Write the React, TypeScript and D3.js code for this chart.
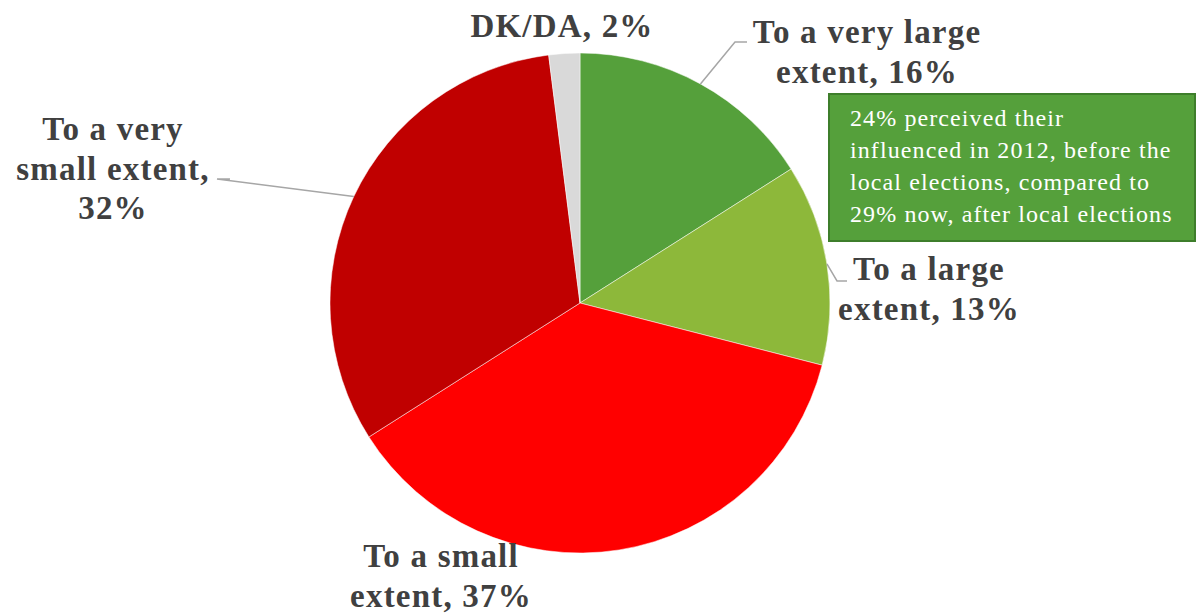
import React from "react";
import * as d3 from "d3";

const categories = ["To a very large extent", "To a large extent", "To a small extent", "To a very small extent", "DK/DA"];
const values = [16, 13, 37, 32, 2];
const colors = ["#55A03B", "#8DB83A", "#FF0000", "#C00000", "#D9D9D9"];
const labelLines = [
  ["To a very large", "extent, 16%"],
  ["To a large", "extent, 13%"],
  ["To a small", "extent, 37%"],
  ["To a very", "small extent,", "32%"],
  ["DK/DA, 2%"],
];
const noteLines = [
  "24% perceived their",
  "influenced in 2012, before the",
  "local elections, compared to",
  "29% now, after local elections",
];

const W = 1201, H = 616;
const cx = 580, cy = 303, R = 250;
// label anchors (center x, first baseline y)
const labelPos: [number, number][] = [[867, 43], [929, 280], [441, 567], [113, 140], [562, 37]];
// leader lines (label end points)
const leaders: ([number, number][] | null)[] = [
  [[747, 42], [735, 42]],
  [[847, 281], [837, 281]],
  null,
  [[230, 179], [217, 179]],
  null,
];

export default function App() {
  const pie = d3.pie<number>().sort(null).value((d) => d);
  const arcs = pie(values);
  const arc = d3.arc<d3.PieArcDatum<number>>().innerRadius(0).outerRadius(R);
  const font = "Liberation Serif, DejaVu Serif, serif";
  return (
    <svg width={W} height={H} style={{ position: "absolute", left: 0, top: 0, background: "#fff" }}>
      <g transform={`translate(${cx},${cy})`}>
        {arcs.map((a, i) => (
          <path key={i} d={arc(a) || ""} fill={colors[i]} stroke="#fff" strokeWidth={0.5} />
        ))}
      </g>
      {arcs.map((a, i) => {
        const pts = leaders[i];
        if (!pts) return null;
        const ang = (a.startAngle + a.endAngle) / 2;
        const ex = cx + R * Math.sin(ang);
        const ey = cy - R * Math.cos(ang);
        const line = d3.line();
        return (
          <path key={"l" + i} d={line([pts[0], pts[1], [ex, ey]]) || ""} fill="none" stroke="#A6A6A6" strokeWidth={1.5} />
        );
      })}
      {labelLines.map((lines, i) => (
        <text key={"t" + i} x={labelPos[i][0]} y={labelPos[i][1]} textAnchor="middle" style={{ fontFamily: font, letterSpacing: "1.2px" }} fontWeight="bold" fontSize={33} fill="#404040">
          {lines.map((s, j) => (
            <tspan key={j} x={labelPos[i][0]} dy={j === 0 ? 0 : 39.5}>{s}</tspan>
          ))}
        </text>
      ))}
      <rect x={829} y={94} width={366} height={147} fill="#55A03B" stroke="#3E7E2B" strokeWidth={2} />
      <text x={850} y={126} style={{ fontFamily: font, letterSpacing: "1.1px" }} fontSize={24} fill="#fff">
        {noteLines.map((s, j) => (
          <tspan key={j} x={850} dy={j === 0 ? 0 : 32}>{s}</tspan>
        ))}
      </text>
    </svg>
  );
}
